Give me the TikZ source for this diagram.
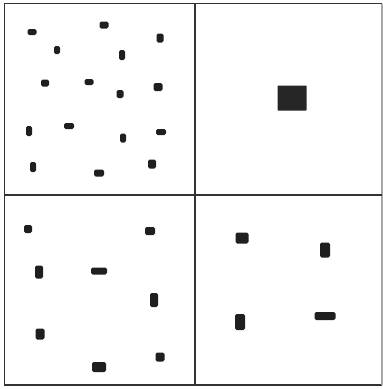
\documentclass[tikz,border=0pt]{standalone}
\begin{document}
\begin{tikzpicture}[x=1pt,y=-1pt,
  gridline/.style={draw=black!80,line width=1.7pt},
  blob/.style={fill=black!88,rounded corners=1.6pt}]
\useasboundingbox (0,0) rectangle (383,389);
\newcommand\blob[4]{\fill[blob] ({#1-#3/2},{#2-#4/2}) rectangle ++(#3,#4);}
% grid
\draw[gridline] (382,3.5) -- (4.5,3.5) -- (4.5,385) -- (382,385);
\draw[draw=black!35,line width=1.2pt] (382,3.5) -- (382,385);
\draw[gridline] (195,3.5) -- (195,385);
\draw[gridline] (4.5,195) -- (382,195);
% top-left panel
\blob{32}{32}{9}{6}
\blob{104}{25}{9}{7}
\blob{160}{38}{7}{9}
\blob{57}{50}{6}{8}
\blob{122}{55}{6}{10}
\blob{45}{83}{8}{7}
\blob{89}{82}{9}{6}
\blob{120}{94}{7}{8}
\blob{158}{87}{9}{8}
\blob{29}{131}{6}{10}
\blob{69}{126}{10}{6}
\blob{123}{138}{6}{9}
\blob{161}{132}{10}{6}
\blob{33}{167}{6}{10}
\blob{99}{173}{10}{7}
\blob{152}{164}{8}{9}
% top-right panel
\fill[black!85,rounded corners=0.6pt] (277.5,85.5) rectangle ++(29,25);
% bottom-left panel
\blob{28}{229}{8}{8}
\blob{150}{231}{10}{8}
\blob{39}{272}{8}{13}
\blob{99}{271}{16}{7}
\blob{154}{300}{8}{14}
\blob{40}{334}{9}{11}
\blob{99}{367}{14}{10}
\blob{160}{357}{9}{9}
% bottom-right panel
\blob{242}{238}{13}{11}
\blob{325}{250}{10}{15}
\blob{240}{322}{10}{16}
\blob{325}{316}{21}{8}
\end{tikzpicture}
\end{document}
